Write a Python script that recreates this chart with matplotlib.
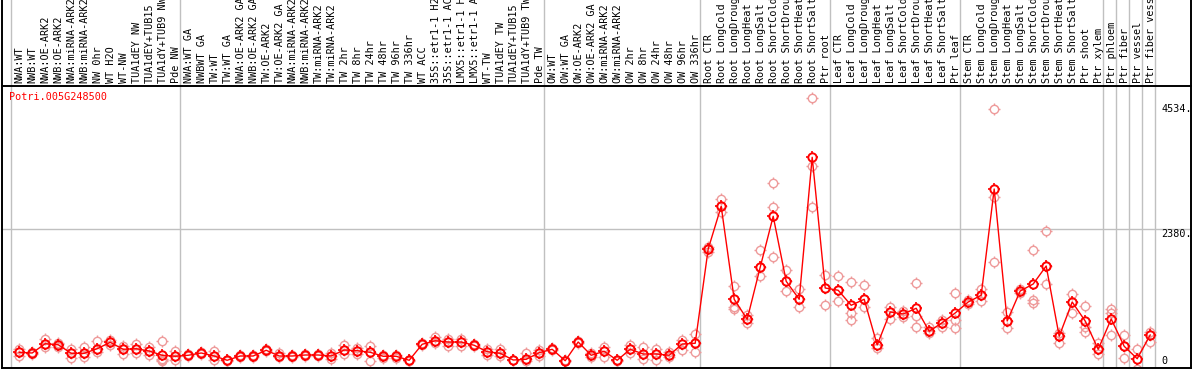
import numpy as np
import matplotlib
matplotlib.use("Agg")
import matplotlib.pyplot as plt
from matplotlib.path import Path

# sample names, one per column
labels = [
    # NW group
    "NWA:WT", "NWB:WT", "NWA:OE-ARK2", "NWB:OE-ARK2", "NWA:miRNA-ARK2",
    "NWB:miRNA-ARK2", "NW 0hr", "WT H2O", "WT-NW", "TUA1dEY NW",
    "TUA1dEY+TUB15", "TUA1dY+TUB9 NW", "Pde NW",
    # TW group
    "NWA:WT GA", "NWBWT GA", "TW:WT", "TW:WT GA", "NWA:OE-ARK2 GA",
    "NWB:OE-ARK2 GA", "TW:OE-ARK2", "TW:OE-ARK2 GA", "NWA:miRNA-ARK2",
    "NWB:miRNA-ARK2", "TW:miRNA-ARK2", "TW:miRNA-ARK2", "TW 2hr", "TW 8hr",
    "TW 24hr", "TW 48hr", "TW 96hr", "TW 336hr", "WT ACC",
    "35S::etr1-1 H2O", "35S::etr1-1 ACC", "LMX5::etr1-1 H2O",
    "LMX5::etr1-1 ACC", "WT-TW", "TUA1dEY TW", "TUA1dEY+TUB15",
    "TUA1dY+TUB9 TW", "Pde TW",
    # OW group
    "OW:WT", "OW:WT GA", "OW:OE-ARK2", "OW:OE-ARK2 GA", "OW:miRNA-ARK2",
    "OW:miRNA-ARK2", "OW 2hr", "OW 8hr", "OW 24hr", "OW 48hr", "OW 96hr",
    "OW 336hr",
    # root
    "Root CTR", "Root LongCold", "Root LongDrought", "Root LongHeat",
    "Root LongSalt", "Root ShortCold", "Root ShortDrought", "Root ShortHeat",
    "Root ShortSalt", "Ptr root",
    # leaf
    "Leaf CTR", "Leaf LongCold", "Leaf LongDrought", "Leaf LongHeat",
    "Leaf LongSalt", "Leaf ShortCold", "Leaf ShortDrought", "Leaf ShortHeat",
    "Leaf ShortSalt", "Ptr leaf",
    # stem
    "Stem CTR", "Stem LongCold", "Stem LongDrought", "Stem LongHeat",
    "Stem LongSalt", "Stem ShortCold", "Stem ShortDrought", "Stem ShortHeat",
    "Stem ShortSalt", "Ptr shoot", "Ptr xylem",
    "Ptr phloem", "Ptr fiber", "Ptr vessel", "Ptr fiber vessel",
]
group_sizes = [13, 28, 12, 10, 10, 11, 1, 1, 1, 1]

# mean expression per column
means = [
    157, 144, 311, 293, 139, 139, 221, 337, 211, 221, 180, 103, 85,
    103, 144, 90, 13, 90, 90, 193, 90, 90, 108, 108, 90, 198, 185, 157,
    85, 85, 13, 301, 365, 342, 342, 283, 167, 139, 18, 31, 149, 211,
    5, 342, 103, 175, 13, 211, 126, 126, 103, 306, 319,
    2016, 2785, 1111, 751, 1687, 2605, 1435, 1111, 3667, 1314,
    1273, 1003, 1111, 288, 882, 846, 949, 535, 689, 864,
    1062, 1183, 3096, 720, 1260, 1386, 1710, 445, 1062, 720, 211,
    756, 265, 41, 468,
]

# individual replicates per column
replicates = [
    [211, 170, 90], [160, 144, 128], [390, 300, 250], [330, 300, 250],
    [220, 139, 60], [260, 139, 80], [355, 221, 157], [380, 337, 290],
    [270, 211, 130], [310, 221, 150], [260, 180, 100], [355, 30, 18, 5],
    [180, 85, 20],
    [120, 103, 90], [160, 144, 130], [180, 90, 10], [25, 13, 5],
    [110, 90, 70], [110, 90, 70], [210, 193, 180], [139, 90, 67],
    [100, 90, 80], [120, 108, 95], [120, 108, 95], [139, 90, 40],
    [286, 198, 120], [240, 185, 126], [275, 157, 5], [110, 85, 60],
    [110, 85, 60], [20, 13, 5], [320, 301, 285], [427, 365, 319],
    [402, 342, 270], [402, 342, 270], [300, 283, 265], [221, 167, 103],
    [216, 139, 90], [25, 18, 10], [139, 31, 0], [198, 149, 90],
    [230, 211, 195],
    [10, 5, 0], [360, 342, 325], [139, 103, 67], [258, 175, 78],
    [20, 13, 5], [283, 211, 150], [258, 126, 30], [211, 126, 18],
    [162, 103, 67], [378, 306, 198], [481, 319, 162],
    [2057, 2016, 1967], [2916, 2785, 2687], [1350, 977, 936],
    [828, 751, 679], [1993, 1687, 1530], [3199, 2767, 1867],
    [1633, 1435, 1255], [1291, 1111, 977], [4729, 3510, 2767],
    [1548, 1314, 1008],
    [1530, 1273, 1075], [1417, 869, 738], [1368, 1111, 977],
    [409, 288, 240], [972, 882, 751], [900, 846, 790], [1399, 810, 617],
    [607, 535, 498], [738, 689, 617], [1219, 738, 594],
    [1100, 1062, 1020], [1296, 1183, 1085], [4534, 2947, 1777],
    [877, 720, 594], [1300, 1260, 1220], [1993, 1098, 1039],
    [2335, 1710, 1386], [510, 445, 319], [1206, 1062, 859],
    [985, 617, 527], [319, 211, 126],
    [941, 869, 463], [463, 265, 59], [211, -140], [527, 468, 347],
]

tick_values = [4534, 2380, 0]
gene = "Potri.005G248500"

# four little ticks sticking out of the circle markers
verts, codes = [], []
for dx, dy in [(0, 1), (0, -1), (1, 0), (-1, 0)]:
    verts += [(dx * 1.0, dy * 1.0), (dx * 1.5, dy * 1.5)]
    codes += [Path.MOVETO, Path.LINETO]
ticks = Path(verts, codes)

W, H = 1194, 370
fig = plt.figure(figsize=(W / 100, H / 100), dpi=100)
mono = "DejaVu Sans Mono"

# pixel geometry of the original
x_left, x_right = 2, 1191
y_top, y_bot = 86, 368
col0, col_w = 11, 13

ax = fig.add_axes([x_left / W, (H - y_bot) / H, (x_right - x_left) / W,
                   (y_bot - y_top) / H])
lab = fig.add_axes([x_left / W, (H - y_top) / H, (x_right - x_left) / W,
                    y_top / H + 0.01], sharex=ax)

ax.set_xlim((x_left - col0) / col_w, (x_right - col0) / col_w)
scale = 18.0
ax.set_ylim((361 - y_bot) * scale, (361 - y_top) * scale)
lab.set_ylim(0, 1)

xs = np.arange(len(means)) + 0.63

# group separators
bounds = np.concatenate([[0], np.cumsum(group_sizes)])
for b in bounds:
    ax.axvline(b, color="#c0c0c0", lw=1, zorder=0)
    lab.axvline(b, color="#c0c0c0", lw=1, zorder=0)
ax.axhline(2380, color="#c0c0c0", lw=1, zorder=0)

ms = 6.0
for x, reps in zip(xs, replicates):
    rx = [x] * len(reps)
    ax.plot(rx, reps, linestyle="none", marker="o", markersize=ms,
            mfc="none", mec="#ee9a9a", mew=1.0, zorder=2)
    ax.plot(rx, reps, linestyle="none", marker=ticks, markersize=ms * 1.5,
            mec="#ee9a9a", mew=1.0, zorder=2)
ax.plot(xs, means, color="red", lw=1.0, zorder=3)
ax.plot(xs, means, linestyle="none", marker="o", markersize=ms,
        mfc="none", mec="red", mew=1.4, zorder=4)
ax.plot(xs, means, linestyle="none", marker=ticks, markersize=ms * 1.5,
        mec="red", mew=1.2, zorder=4)

for x, name in zip(xs, labels):
    lab.text(x + 0.05, 0.035, name, rotation=90, ha="center", va="bottom",
             fontsize=7.3, family=mono, color="black")

for v in tick_values:
    va = "top" if v == 2380 else "center"
    ax.text((1161 - col0) / col_w, v, f"{v}." if v else "0", ha="left",
            va=va, fontsize=7.3, family=mono, color="black", clip_on=True)

ax.text((9 - col0) / col_w, (361 - 97) * scale, gene, ha="left",
        va="center", fontsize=7.3, family=mono, color="red")

for a in (ax, lab):
    a.set_xticks([])
    a.set_yticks([])
    for s in a.spines.values():
        s.set_linewidth(1.4)
        s.set_color("black")
lab.spines["top"].set_visible(False)
ax.spines["top"].set_visible(False)

fig.savefig("out.png", dpi=100)
